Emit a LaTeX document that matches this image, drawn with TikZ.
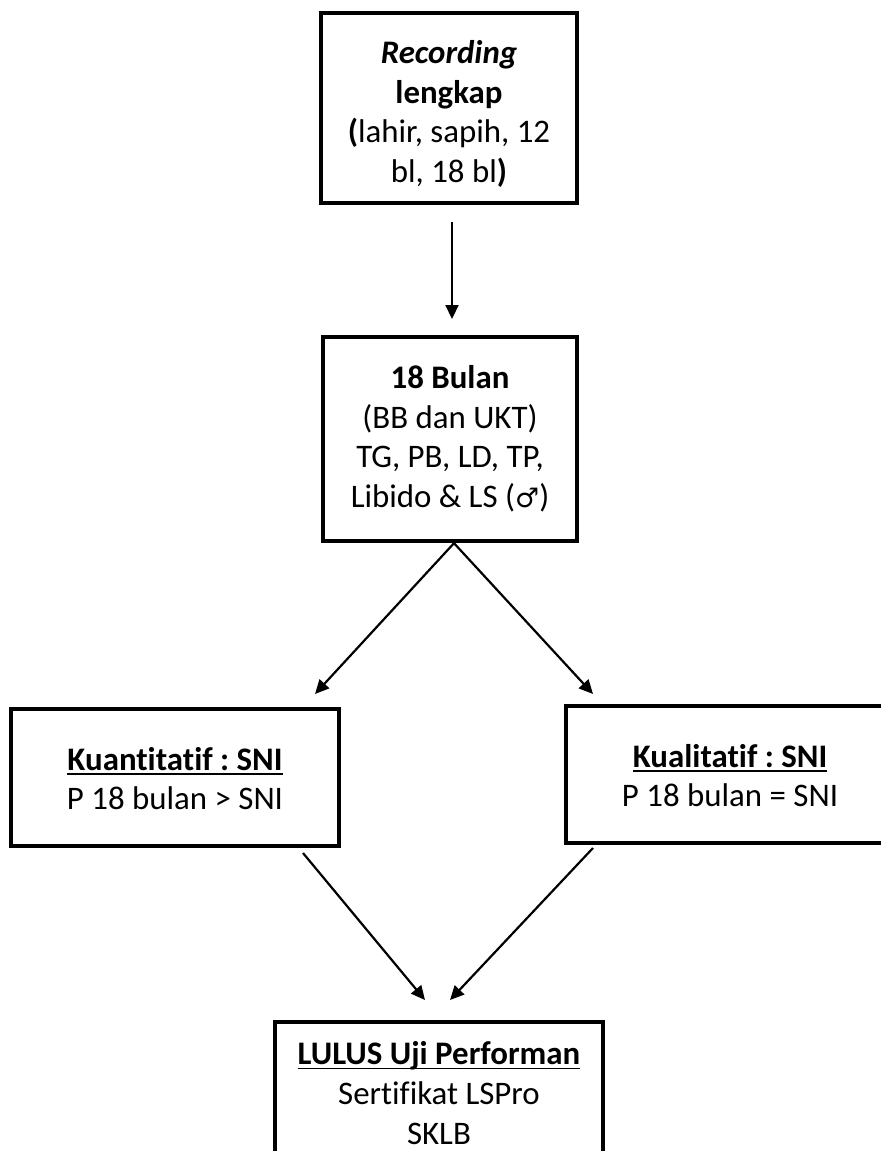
\documentclass[tikz,border=0pt]{standalone}
\usepackage{fontspec}
\setmainfont{Carlito}[Ligatures=NoCommon]
\newfontfamily\symfont{DejaVu Sans}
\usetikzlibrary{arrows.meta}
% underline at a fixed distance below the baseline
\newcommand{\undl}[1]{\leavevmode\setbox0\hbox{#1}\rlap{\rule[-5bp]{\wd0}{1.8bp}}\box0}
% struts that fix the height of the first line and the depth of the last one
\newcommand{\toph}[1]{\rule{0pt}{#1bp}}
\newcommand{\botd}[1]{\rule[-#1bp]{0pt}{0pt}}
\begin{document}
\frenchspacing
\begin{tikzpicture}[x=1bp,y=-1bp,
  box/.style={draw, line width=4.3bp, align=center, inner sep=0pt,
    font=\fontsize{33}{40}\selectfont\frenchspacing},
  arr/.style={line width=2.2bp, -{Triangle[length=14bp,width=13bp]}}]
\clip (0,0) rectangle (881,1151);
\fill[white] (0,0) rectangle (881,1151);

% boxes
\node[box, minimum width=256bp, minimum height=190bp] (rec) at (449,108)
  {\toph{40}{\bfseries\itshape Recording}\\ \textbf{lengkap}\\ \textbf{(}lahir, sapih, 12\\ bl, 18 bl\textbf{)}\botd{10}};
\node[box, minimum width=254bp, minimum height=204bp] (bln) at (450,439)
  {\toph{28}\textbf{18 Bulan}\\ (BB dan UKT)\\ TG, PB, LD, TP,\\ Libido \& LS ({\symfont\fontsize{27}{40}\selectfont ♂})\botd{10}};
\node[box, minimum width=328bp, minimum height=137bp] (kuan) at (175,777.5)
  {\toph{35}\textbf{\undl{Kuantitatif : SNI}}\\ P 18 bulan > SNI\botd{10}};
\node[box, minimum width=328bp, minimum height=137bp] (kual) at (730,774.5)
  {\toph{35}\textbf{\undl{Kualitatif : SNI}}\\ P 18 bulan = SNI\botd{10}};
\node[box, minimum width=328bp, minimum height=155bp, anchor=north] (lulus) at (439,1020)
  {\toph{39}\textbf{\undl{LULUS Uji Performan}}\\ Sertifikat LSPro\\ SKLB\botd{30}};

% connector ends
\coordinate (r1) at (452,222);
\coordinate (r2) at (452,319);
\coordinate (tl) at (315,694);
\coordinate (tr) at (593,694);
\coordinate (kq) at (303,853);
\coordinate (kl) at (593,848);
\coordinate (l1) at (425,1000);
\coordinate (l2) at (450,1000);

\draw[arr] (r1) -- (r2);
\draw[arr] ([xshift=4bp]bln.south) -- (tl);
\draw[arr] ([xshift=4bp]bln.south) -- (tr);
\draw[arr] (kq) -- (l1);
\draw[arr] (kl) -- (l2);
\end{tikzpicture}
\end{document}
